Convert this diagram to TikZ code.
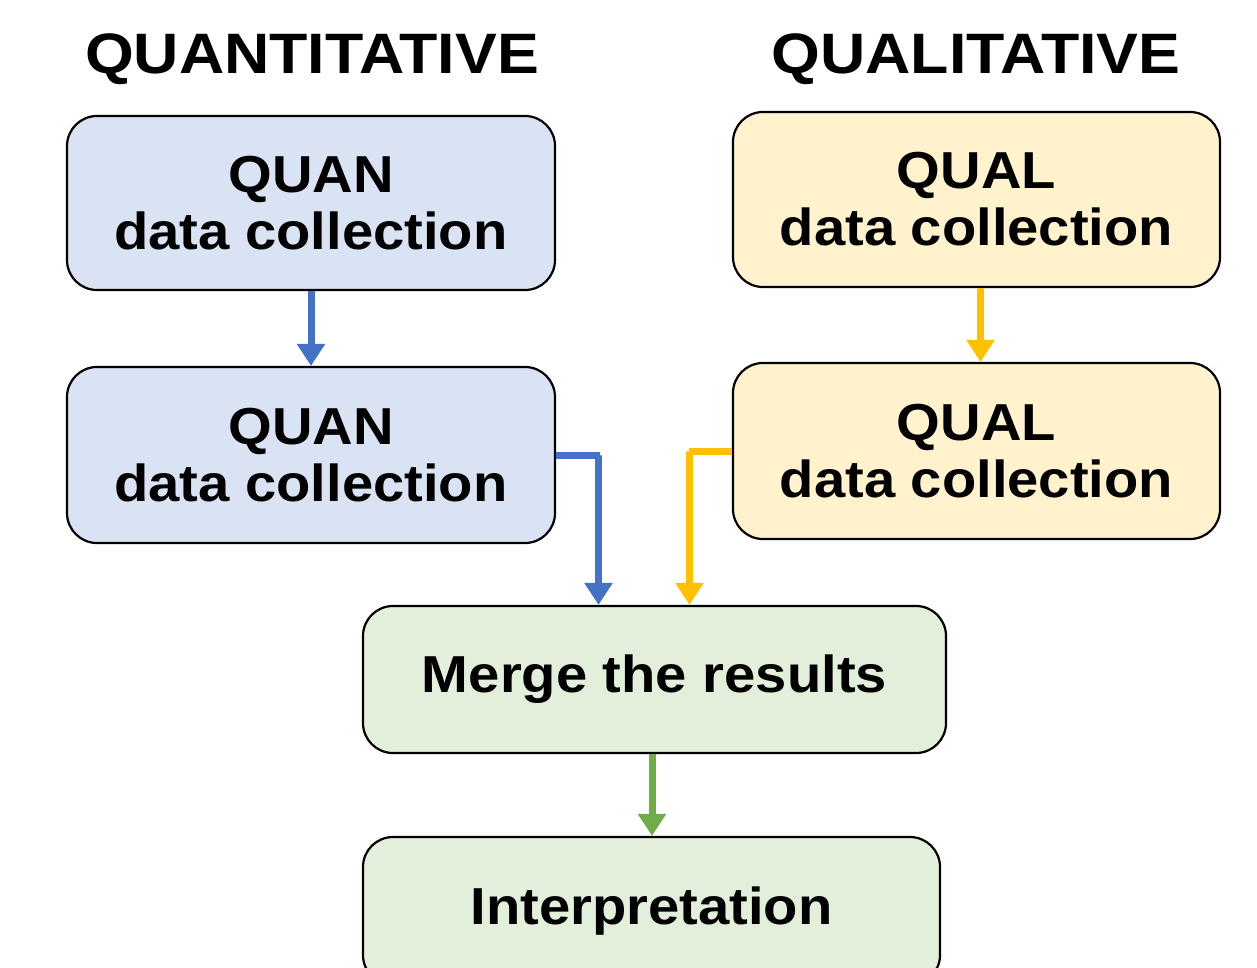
\documentclass[tikz,border=0pt]{standalone}
\usepackage{fontspec}
\setmainfont{Liberation Sans}
\newfontfamily\boxfont[FakeStretch=1.08]{Liberation Sans}
\newfontfamily\headfont[FakeStretch=1.10]{Liberation Sans}
\usetikzlibrary{arrows.meta}
\definecolor{quanfill}{HTML}{DAE3F3}
\definecolor{qualfill}{HTML}{FFF2CC}
\definecolor{mergefill}{HTML}{E2EFDA}
\definecolor{quanline}{HTML}{4472C4}
\definecolor{qualline}{HTML}{FFC000}
\definecolor{mergeline}{HTML}{70AD47}
\tikzset{
  stagebox/.style={draw=black, line width=2.2pt, rounded corners=30pt, align=center,
    font=\boxfont\fontsize{52}{57}\selectfont\bfseries, inner sep=0pt},
  header/.style={font=\headfont\fontsize{57}{60}\selectfont\bfseries, inner sep=0pt},
  flow/.style={line width=7pt, -{Triangle[width=27pt,length=22pt]}},
}
\begin{document}
\begin{tikzpicture}[x=1pt,y=-1pt]
\useasboundingbox (0,0) rectangle (1257,967);
\fill[white] (0,0) rectangle (1257,967);

% column headings
\node[header] (hquan) at (312,59) {QUANTITATIVE};
\node[header] (hqual) at (976,59) {QUALITATIVE};

% quantitative strand
\node[stagebox, fill=quanfill, minimum width=488pt, minimum height=174pt] (quan1) at (311,203) {QUAN\\data collection};
\node[stagebox, fill=quanfill, minimum width=488pt, minimum height=176pt] (quan2) at (311,455) {QUAN\\data collection};

% qualitative strand
\node[stagebox, fill=qualfill, minimum width=487pt, minimum height=175pt] (qual1) at (976.5,199.5) {QUAL\\data collection};
\node[stagebox, fill=qualfill, minimum width=487pt, minimum height=176pt] (qual2) at (976.5,451) {QUAL\\data collection};

% merging and interpretation
\node[stagebox, fill=mergefill, minimum width=583pt, minimum height=147pt] (merge) at (654.5,679.5) {Merge the results};
\node[stagebox, fill=mergefill, minimum width=577pt, minimum height=148pt] (interp) at (651.5,911) {Interpretation};

% connectors
\draw[flow, quanline] (quan1.south) -- (quan2.north);
\draw[flow, qualline] ([xshift=4pt]qual1.south) -- ([xshift=4pt]qual2.north);
\draw[flow, quanline] (quan2.east) -- ++(44,0) -| ([xshift=-56pt]merge.north);
\draw[flow, qualline] (qual2.west) -- ++(-43,0) -| ([xshift=35pt]merge.north);
\draw[flow, mergeline] ([xshift=-2.5pt]merge.south) -- ([xshift=-2.5pt]merge.south |- interp.north);
\end{tikzpicture}
\end{document}
